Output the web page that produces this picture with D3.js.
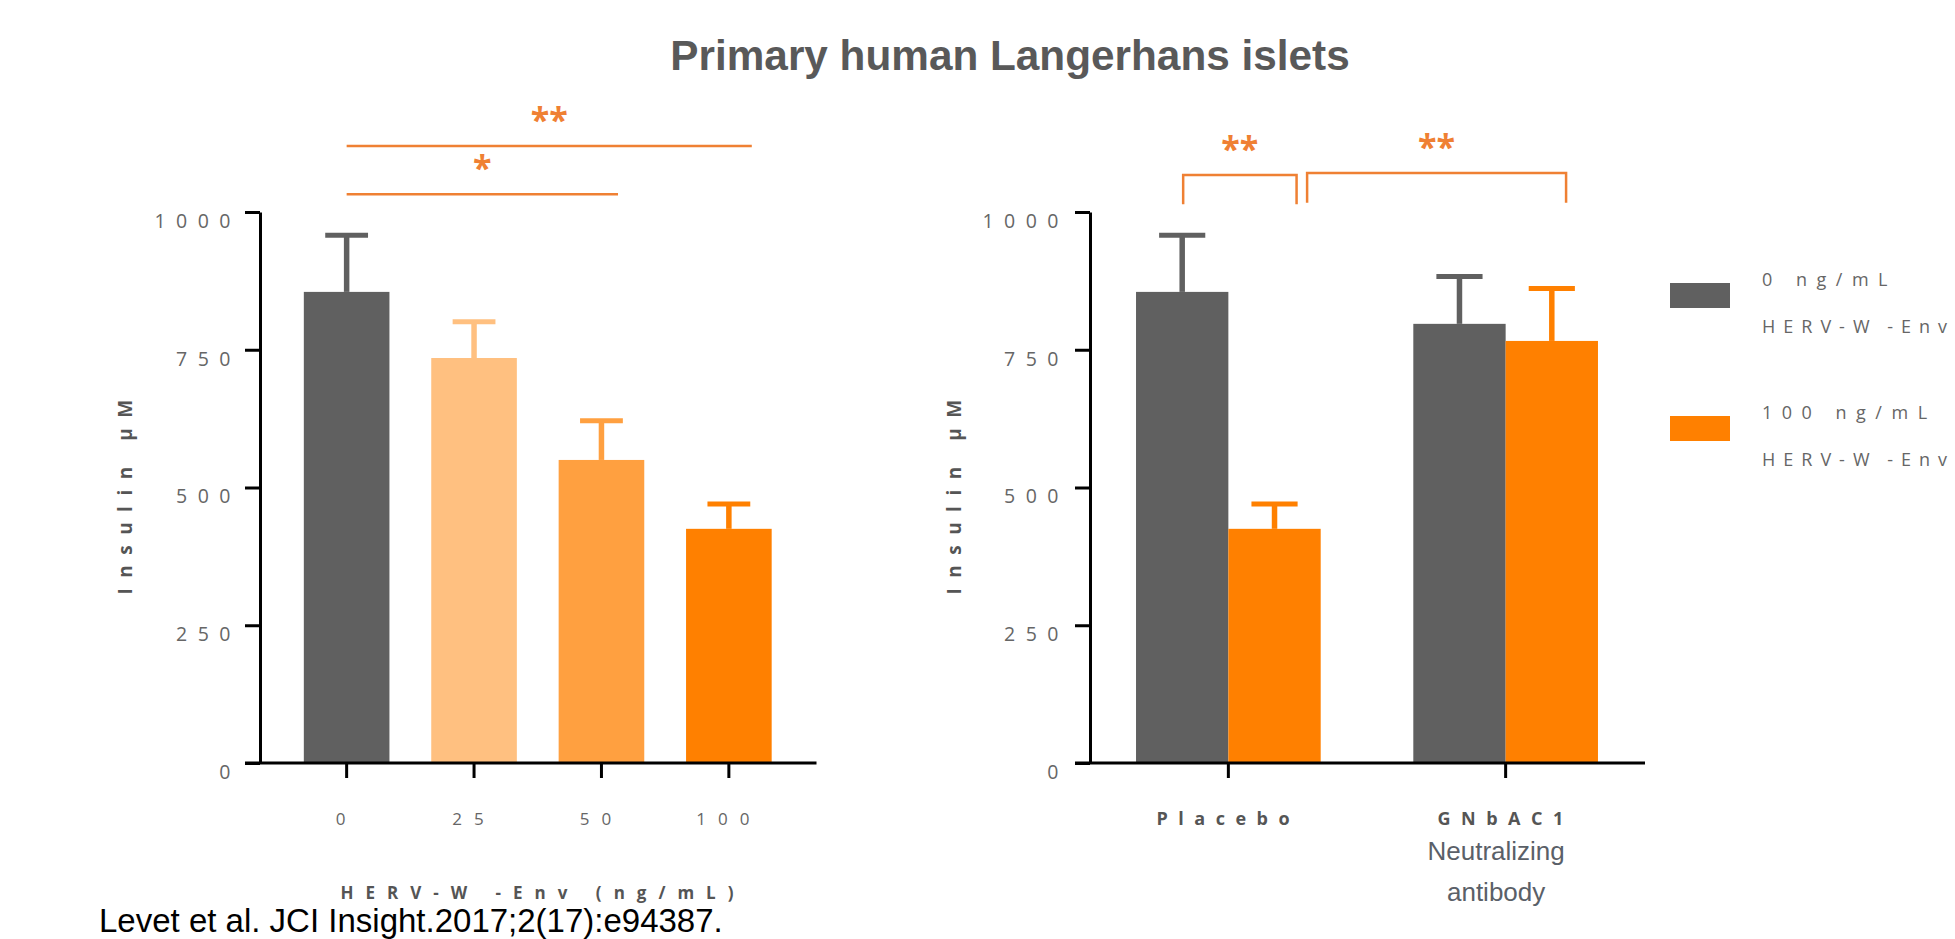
<!DOCTYPE html>
<html><head><meta charset="utf-8">
<script src="https://cdn.jsdelivr.net/npm/d3@7"></script>
<style>
html,body{margin:0;padding:0;background:#fff;}
svg{display:block;}
</style></head><body>
<svg id="chart" width="1955" height="939"></svg>
<script>
// ---------- data ----------
const titleText = "Primary human Langerhans islets";
const doseCategories = ["0", "25", "50", "100"];
const doseMeans = [855, 735, 550, 425];
const doseSEM = [103, 66, 71, 45];
const doseColors = ["#606060", "#FFC080", "#FFA040", "#FF8000"];

const treatmentGroups = ["Placebo", "GNbAC1"];
const seriesNames = ["0 ng/mL", "100 ng/mL"];
const seriesColors = ["#606060", "#FF8000"];
const envZeroMeans = [855, 797];
const envZeroSEM = [103, 86];
const envHighMeans = [425, 766];
const envHighSEM = [45, 95];

const yTicks = [0, 250, 500, 750, 1000];
const yLabel = "Insulin µM";
const leftXLabel = "HERV-W -Env (ng/mL)";
const legendSub = "HERV-W -Env";
const groupSubLabel = ["Neutralizing", "antibody"];
const citation = "Levet et al. JCI Insight.2017;2(17):e94387.";

// significance annotations (x in category-index units, y in data units)
const leftSig = [
  {x1: 0, x2: 3.18, y: 1120, label: "**"},
  {x1: 0, x2: 2.13, y: 1032, label: "*"}
];
const rightSig = [
  {x1: -0.163, x2: 0.246, yTop: 1067, yBottom: 1014, label: "**"},
  {x1: 0.284, x2: 1.218, yTop: 1071, yBottom: 1017, label: "**"}
];

// ---------- styles ----------
const SIG = "#EF8033";
const TICK_TXT = "#666666";
const LABEL_TXT = "#555555";
const SANS = "'Open Sans', 'DejaVu Sans', sans-serif";
const ARIAL = "'Liberation Sans', Arial, sans-serif";

const svg = d3.select("#chart");

svg.append("text")
  .attr("x", 1010).attr("y", 70)
  .attr("text-anchor", "middle")
  .style("font-family", ARIAL).style("font-weight", "bold")
  .style("font-size", "42.3px").style("fill", "#595959")
  .text(titleText);

const y = d3.scaleLinear().domain([0, 1000]).range([763, 212]);

function styleYAxis(g) {
  g.select(".domain").attr("stroke", "#000").attr("stroke-width", 3);
  g.selectAll(".tick line").attr("stroke", "#000").attr("stroke-width", 3);
  g.selectAll(".tick text")
    .attr("dy", "0.785em")
    .style("font-family", SANS).style("font-size", "19.5px")
    .style("letter-spacing", "10.5px").style("fill", TICK_TXT);
}

function yAxisLabel(x) {
  svg.append("text")
    .attr("transform", `translate(${x},492) rotate(-90)`)
    .attr("text-anchor", "middle")
    .style("font-family", SANS).style("font-weight", "bold")
    .style("font-size", "19px").style("letter-spacing", "10.5px")
    .style("fill", LABEL_TXT)
    .text(yLabel);
}

// ================= LEFT PANEL =================
const xL = d3.scaleBand().domain(doseCategories)
  .range([260, 815.5]).paddingInner(0.328).paddingOuter(0.344);
const bwL = xL.bandwidth();
const idxL = d3.scaleLinear().domain([0, doseCategories.length - 1])
  .range([xL(doseCategories[0]) + bwL / 2, xL(doseCategories[doseCategories.length - 1]) + bwL / 2]);

const left = svg.append("g");
const leftData = doseCategories.map((c, i) => ({c, m: doseMeans[i], s: doseSEM[i], col: doseColors[i]}));

left.selectAll("rect.bar").data(leftData).join("rect")
  .attr("class", "bar")
  .attr("x", d => xL(d.c)).attr("width", bwL)
  .attr("y", d => y(d.m)).attr("height", d => y(0) - y(d.m))
  .attr("fill", d => d.col);

left.selectAll("line.err").data(leftData).join("line")
  .attr("class", "err")
  .attr("x1", d => xL(d.c) + bwL / 2).attr("x2", d => xL(d.c) + bwL / 2)
  .attr("y1", d => y(d.m)).attr("y2", d => y(d.m + d.s))
  .attr("stroke", d => d.col).attr("stroke-width", 5.5);
left.selectAll("line.cap").data(leftData).join("line")
  .attr("class", "cap")
  .attr("x1", d => xL(d.c) + bwL / 4).attr("x2", d => xL(d.c) + bwL * 3 / 4)
  .attr("y1", d => y(d.m + d.s)).attr("y2", d => y(d.m + d.s))
  .attr("stroke", d => d.col).attr("stroke-width", 5);

// axes
const gLY = left.append("g").attr("transform", "translate(260,0)")
  .call(d3.axisLeft(y).tickValues(yTicks).tickFormat(d3.format("d"))
    .tickSize(15).tickSizeOuter(0).tickPadding(4));
styleYAxis(gLY);

left.append("line")
  .attr("x1", 245).attr("x2", xL.range()[1] + 1)
  .attr("y1", y(0)).attr("y2", y(0))
  .attr("stroke", "#000").attr("stroke-width", 3);

const gLX = left.append("g").attr("transform", `translate(0,${y(0)})`)
  .call(d3.axisBottom(xL).tickSize(15).tickSizeOuter(0));
gLX.select(".domain").remove();
gLX.selectAll(".tick line").attr("stroke", "#000").attr("stroke-width", 3);
gLX.selectAll(".tick text")
  .attr("y", 61.5).attr("dy", 0)
  .style("font-family", SANS).style("font-size", "17px")
  .style("letter-spacing", "12px").style("fill", TICK_TXT);

left.append("text")
  .attr("x", 543).attr("y", 899)
  .attr("text-anchor", "middle")
  .style("font-family", SANS).style("font-weight", "bold")
  .style("font-size", "17px").style("letter-spacing", "12px")
  .style("fill", LABEL_TXT)
  .text(leftXLabel);

yAxisLabel(132);

// significance (left)
left.selectAll("line.sig").data(leftSig).join("line")
  .attr("class", "sig")
  .attr("x1", d => idxL(d.x1)).attr("x2", d => idxL(d.x2))
  .attr("y1", d => y(d.y)).attr("y2", d => y(d.y))
  .attr("stroke", SIG).attr("stroke-width", 2.5);
left.selectAll("text.sig").data(leftSig).join("text")
  .attr("class", "sig")
  .attr("x", d => (idxL(d.x1) + idxL(d.x2)) / 2)
  .attr("y", d => y(d.y) - 14)
  .attr("text-anchor", "middle")
  .style("font-family", SANS).style("font-weight", "bold")
  .style("font-size", "34px").style("fill", SIG)
  .text(d => d.label);

// ================= RIGHT PANEL =================
const xG = d3.scaleBand().domain(treatmentGroups)
  .range([1090, 1644]).paddingInner(0.334).paddingOuter(0.166);
const xS = d3.scaleBand().domain(seriesNames).range([0, xG.bandwidth()]).padding(0);
const bwR = xS.bandwidth();
const gpos = d3.scaleLinear().domain([0, 1])
  .range([xG(treatmentGroups[0]) + xG.bandwidth() / 2, xG(treatmentGroups[1]) + xG.bandwidth() / 2]);

const right = svg.append("g");
const rightData = [];
treatmentGroups.forEach((g, i) => {
  rightData.push({g, s: seriesNames[0], m: envZeroMeans[i], e: envZeroSEM[i], col: seriesColors[0]});
  rightData.push({g, s: seriesNames[1], m: envHighMeans[i], e: envHighSEM[i], col: seriesColors[1]});
});
const bx = d => xG(d.g) + xS(d.s);

right.selectAll("rect.bar").data(rightData).join("rect")
  .attr("class", "bar")
  .attr("x", bx).attr("width", bwR)
  .attr("y", d => y(d.m)).attr("height", d => y(0) - y(d.m))
  .attr("fill", d => d.col);
right.selectAll("line.err").data(rightData).join("line")
  .attr("class", "err")
  .attr("x1", d => bx(d) + bwR / 2).attr("x2", d => bx(d) + bwR / 2)
  .attr("y1", d => y(d.m)).attr("y2", d => y(d.m + d.e))
  .attr("stroke", d => d.col).attr("stroke-width", 5.5);
right.selectAll("line.cap").data(rightData).join("line")
  .attr("class", "cap")
  .attr("x1", d => bx(d) + bwR / 4).attr("x2", d => bx(d) + bwR * 3 / 4)
  .attr("y1", d => y(d.m + d.e)).attr("y2", d => y(d.m + d.e))
  .attr("stroke", d => d.col).attr("stroke-width", 5);

const gRY = right.append("g").attr("transform", "translate(1090,0)")
  .call(d3.axisLeft(y).tickValues(yTicks).tickFormat(d3.format("d"))
    .tickSize(15).tickSizeOuter(0).tickPadding(6));
styleYAxis(gRY);

right.append("line")
  .attr("x1", 1075).attr("x2", xG.range()[1] + 1)
  .attr("y1", y(0)).attr("y2", y(0))
  .attr("stroke", "#000").attr("stroke-width", 3);

const gRX = right.append("g").attr("transform", `translate(0,${y(0)})`)
  .call(d3.axisBottom(xG).tickSize(15).tickSizeOuter(0));
gRX.select(".domain").remove();
gRX.selectAll(".tick line").attr("stroke", "#000").attr("stroke-width", 3);
gRX.selectAll(".tick text")
  .attr("y", 62).attr("dy", 0)
  .style("font-family", SANS).style("font-weight", "bold").style("font-size", "18px")
  .style("letter-spacing", "10.5px").style("fill", LABEL_TXT);

right.selectAll("text.sub").data(groupSubLabel).join("text")
  .attr("class", "sub")
  .attr("x", xG(treatmentGroups[1]) + xG.bandwidth() / 2 - 9.5)
  .attr("y", (d, i) => 860 + i * 40.5)
  .attr("text-anchor", "middle")
  .style("font-family", ARIAL).style("font-size", "26px").style("fill", "#5A6068")
  .text(d => d);

yAxisLabel(960.5);

// brackets
right.selectAll("path.sig").data(rightSig).join("path")
  .attr("class", "sig")
  .attr("d", d => `M${gpos(d.x1)},${y(d.yBottom)}V${y(d.yTop)}H${gpos(d.x2)}V${y(d.yBottom)}`)
  .attr("fill", "none").attr("stroke", SIG).attr("stroke-width", 2.5);
right.selectAll("text.sig").data(rightSig).join("text")
  .attr("class", "sig")
  .attr("x", d => (gpos(d.x1) + gpos(d.x2)) / 2)
  .attr("y", d => y(d.yTop) - 14)
  .attr("text-anchor", "middle")
  .style("font-family", SANS).style("font-weight", "bold")
  .style("font-size", "34px").style("fill", SIG)
  .text(d => d.label);

// legend
const legend = svg.append("g");
const legItems = legend.selectAll("g").data(seriesNames).join("g")
  .attr("transform", (d, i) => `translate(1670,${283 + i * 133})`);
legItems.append("rect").attr("width", 60).attr("height", 25)
  .attr("fill", (d, i) => seriesColors[i]);
legItems.append("text").attr("x", 92).attr("y", 3)
  .style("font-family", SANS).style("font-size", "18px")
  .style("letter-spacing", "9.5px").style("fill", TICK_TXT)
  .text(d => d);
legItems.append("text").attr("x", 92).attr("y", 50)
  .style("font-family", SANS).style("font-size", "18px")
  .style("letter-spacing", "8px").style("word-spacing", "-3px").style("fill", TICK_TXT)
  .text(legendSub);

// citation
svg.append("text")
  .attr("x", 99).attr("y", 931.5)
  .style("font-family", ARIAL).style("font-size", "33px").style("fill", "#000")
  .text(citation);
</script>
</body></html>
